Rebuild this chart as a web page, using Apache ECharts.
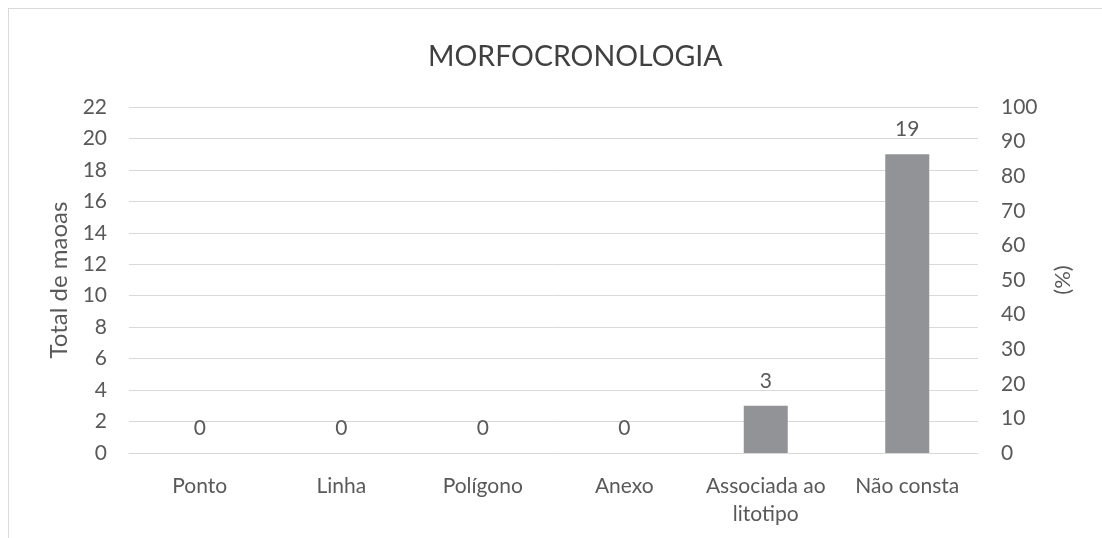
<!DOCTYPE html>
<html>
<head>
<meta charset="utf-8">
<script src="https://cdn.jsdelivr.net/npm/echarts@6/dist/echarts.min.js"></script>
<style>
	html, body { margin: 0; padding: 0; background: #fff; overflow: hidden; }
	#frame { position: absolute; left: 8px; top: 8px; width: 1200px; height: 700px; border-top: 1px solid #d9d9d9; border-left: 1px solid #d9d9d9; }
	#main { position: absolute; left: 0; top: 0; width: 1102px; height: 538px; }
</style>
</head>
<body>
<div id="frame"></div>
<div id="main"></div>
<script>
	// categorias e valores
	var categorias = ['Ponto', 'Linha', 'Polígono', 'Anexo', 'Associada ao\nlitotipo', 'Não consta'];
	var totalMapas = [0, 0, 0, 0, 3, 19];
	var ticksEsq = { min: 0, max: 22, interval: 2 };
	var ticksDir = { min: 0, max: 100, interval: 10 };

	var fonte = 'Lato, "Open Sans", sans-serif';
	var cinza = '#595959';

	var myChart = echarts.init(document.getElementById('main'));
	myChart.setOption({
		animation: false,
		title: {
			text: 'MORFOCRONOLOGIA',
			left: 423,
			top: 37,
			textStyle: { color: '#404040', fontSize: 28.5, fontWeight: 'normal', fontFamily: fonte }
		},
		grid: { left: 129, right: 124, top: 107, bottom: 85 },
		xAxis: {
			type: 'category',
			data: categorias,
			axisLine: { lineStyle: { color: '#d9d9d9' } },
			axisTick: { show: false },
			axisLabel: { color: cinza, fontSize: 21, fontFamily: fonte, margin: 19, lineHeight: 28, interval: 0 }
		},
		yAxis: [{
			type: 'value',
			min: ticksEsq.min, max: ticksEsq.max, interval: ticksEsq.interval,
			name: 'Total de maoas',
			nameLocation: 'middle',
			nameGap: 55,
			nameTextStyle: { color: cinza, fontSize: 24, fontFamily: fonte },
			axisLabel: { color: cinza, fontSize: 21, fontFamily: fonte, margin: 22 },
			splitLine: { lineStyle: { color: '#d9d9d9', width: 1 } }
		}, {
			type: 'value',
			min: ticksDir.min, max: ticksDir.max, interval: ticksDir.interval,
			name: '(%)',
			nameLocation: 'middle',
			nameGap: 74,
			nameRotate: 90,
			nameTextStyle: { color: cinza, fontSize: 22, fontFamily: fonte },
			axisLabel: { color: cinza, fontSize: 21, fontFamily: fonte, margin: 23 },
			splitLine: { show: false }
		}],
		series: [{
			type: 'bar',
			data: totalMapas,
			barWidth: 44,
			itemStyle: { color: '#929396' },
			label: { show: true, position: 'top', distance: 14, color: cinza, fontSize: 21, fontFamily: fonte }
		}]
	});
</script>
</body>
</html>
